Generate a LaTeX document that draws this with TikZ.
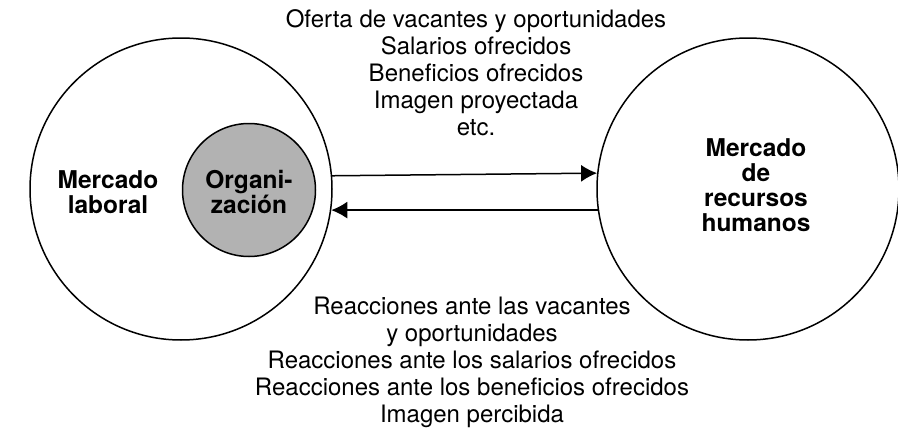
\documentclass[tikz,border=0pt]{standalone}
\usepackage{fontspec}
\setmainfont{TeX Gyre Heros}
\usetikzlibrary{arrows.meta,positioning}
\tikzset{
  marketcirc/.style={circle,draw=black,line width=1.5pt,
    minimum size=302pt,inner sep=0pt},
  orgcirc/.style={circle,draw=black,line width=1.5pt,fill=black!30,
    minimum size=133pt,inner sep=0pt},
  labeltxt/.style={font=\fontsize{24.5}{25}\selectfont\bfseries,
    align=center,inner sep=0pt},
  flowtxt/.style={font=\fontsize{24}{27}\selectfont,
    align=center,inner sep=0pt},
  flow/.style={-{Latex[length=16pt,width=17pt]},line width=1.5pt},
}

\begin{document}
\begin{tikzpicture}[x=1pt,y=-1pt]
  \useasboundingbox (0,0) rectangle (898,431);

  % Mercado laboral with the organization inside
  \node[marketcirc] (lab) at (181,189) {};
  \node[orgcirc] (org) at (249,190) {};
  \node[labeltxt] (labtxt) at (108,191.75) {Mercado\\laboral};
  \node[labeltxt] (orgtxt) at (249,191.75) {Organi-\\zación};

  % Mercado de recursos humanos
  \node[marketcirc] (rrhh) at (748,189) {};
  \node[labeltxt] (rrhhtxt) at (756,185)
    {Mercado\\de\\recursos\\humanos};

  % exchanges between both markets
  \draw[flow] (lab.5.3) -- (rrhh.174.7);
  \draw[flow] (rrhh.188.4) -- (lab.-8.4);

  \node[flowtxt] (oferta) at (476,73)
    {Oferta de vacantes y oportunidades\\
     Salarios ofrecidos\\
     Beneficios ofrecidos\\
     Imagen proyectada\\
     etc.};
  \node[flowtxt] (reacc) at (472,362)
    {Reacciones ante las vacantes\\
     y oportunidades\\
     Reacciones ante los salarios ofrecidos\\
     Reacciones ante los beneficios ofrecidos\\
     Imagen percibida};

\end{tikzpicture}
\end{document}
